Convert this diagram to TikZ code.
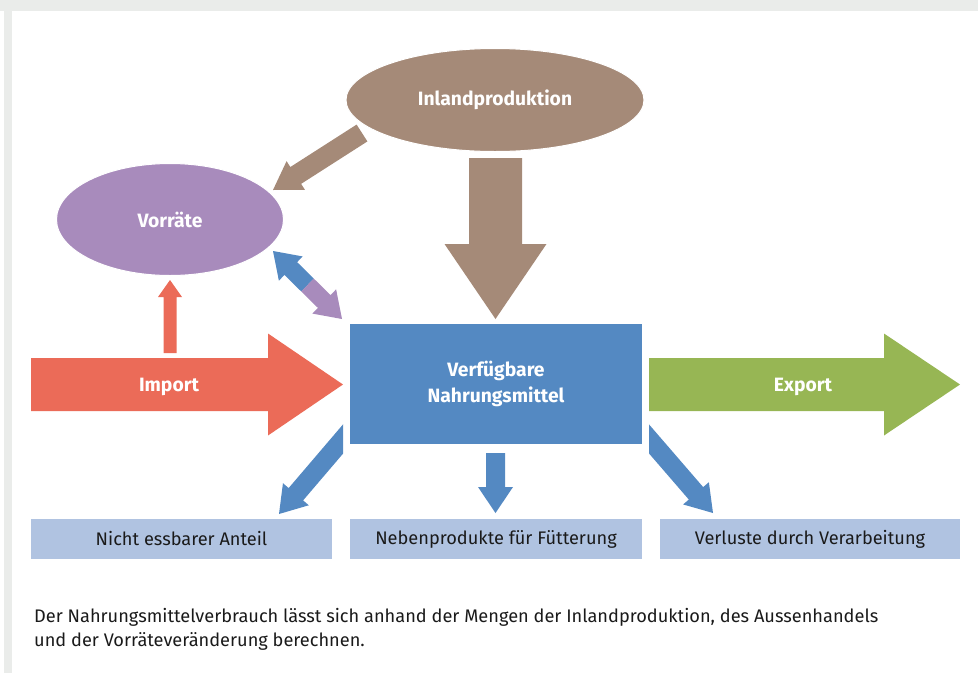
\documentclass[tikz,border=0pt]{standalone}
\usepackage{fontspec}
\setmainfont{Fira Sans}
\usetikzlibrary{calc,shapes.geometric}
\definecolor{brownA}{RGB}{165,138,120}
\definecolor{purpleA}{RGB}{168,139,188}
\definecolor{blueA}{RGB}{84,137,194}
\definecolor{redA}{RGB}{235,107,88}
\definecolor{greenA}{RGB}{151,182,84}
\definecolor{boxblue}{RGB}{176,195,225}
\definecolor{greyband}{RGB}{234,236,234}
\definecolor{txtdark}{RGB}{26,26,26}
\tikzset{
  lbl/.style={text=white,font=\bfseries\fontsize{19.3}{26}\selectfont,align=center,inner sep=0pt},
  ell/.style={ellipse,inner sep=0pt,draw=white,line width=1pt},
  boxtxt/.style={fill=boxblue,minimum height=40pt,text=txtdark,font=\fontsize{18.2}{20}\selectfont,inner sep=0pt},
}
% colour, tail, tip, shaft half width, head half width, head length
\newcommand{\blockarrow}[6]{%
  \path ($(#3)!#6!(#2)$) coordinate (hb);
  \fill[#1] ($(#2)!#4!90:(#3)$) -- ($(hb)!#4!90:(#3)$) -- ($(hb)!#5!90:(#3)$) -- (#3)
    -- ($(hb)!#5!-90:(#3)$) -- ($(hb)!#4!-90:(#3)$) -- ($(#2)!#4!-90:(#3)$) -- cycle;
}
\begin{document}
\begin{tikzpicture}[x=1pt,y=-1pt]
\useasboundingbox (0,0) rectangle (978,673);
\fill[greyband] (0,0) rectangle (978,11);
\fill[greyband] (4,11) rectangle (12,673);

% arrow geometry
\coordinate (impT) at (31,384.5);   \coordinate (impH) at (343,384.5);
\coordinate (expT) at (649,384.5);  \coordinate (expH) at (960,384.5);
\coordinate (bigT) at (495.5,158);  \coordinate (bigH) at (495.5,319);
\coordinate (diaT) at (362,133);    \coordinate (diaH) at (273,190);
\coordinate (redT) at (170,353);    \coordinate (redH) at (170,280);
\coordinate (dblM) at (307.5,285);  \coordinate (dblB) at (273,251);  \coordinate (dblP) at (342,319);
\coordinate (llT) at (352,428.5);   \coordinate (llH) at (279,514);
\coordinate (rrT) at (640,428.5);   \coordinate (rrH) at (713,513);
\coordinate (mmT) at (495.5,453);   \coordinate (mmH) at (495.5,513);

\blockarrow{redA}{impT}{impH}{26.5pt}{51pt}{75pt}
\blockarrow{greenA}{expT}{expH}{26.5pt}{51pt}{76pt}
\blockarrow{brownA}{bigT}{bigH}{26.5pt}{51pt}{75pt}
\blockarrow{brownA}{diaT}{diaH}{10pt}{17pt}{27pt}
\blockarrow{redA}{redT}{redH}{6.5pt}{12pt}{17pt}
\blockarrow{blueA}{dblM}{dblB}{9pt}{17pt}{25pt}
\blockarrow{purpleA}{dblM}{dblP}{9pt}{17pt}{25pt}
\begin{scope}
  \clip (0,0) rectangle (343,673);
  \blockarrow{blueA}{llT}{llH}{9.5pt}{17pt}{26pt}
\end{scope}
\begin{scope}
  \clip (649,0) rectangle (978,673);
  \blockarrow{blueA}{rrT}{rrH}{9.5pt}{17pt}{26pt}
\end{scope}
\blockarrow{blueA}{mmT}{mmH}{9.5pt}{17.5pt}{26pt}

% nodes
\node[ell,fill=brownA,minimum width=298pt,minimum height=103pt,lbl] (inl) at (495,100) {Inlandproduktion};
\node[ell,fill=purpleA,minimum width=227pt,minimum height=112pt,lbl] (vor) at (170,219.5) {Vorräte};
\node[fill=blueA,minimum width=292pt,minimum height=120pt,lbl] (vnm) at (496,384) {Verfügbare\\Nahrungsmittel};
\node[lbl] (imp) at (169,387) {Import};
\node[lbl] (exp) at (803,387) {Export};

\node[boxtxt,minimum width=301pt] (b1) at (181.5,539) {Nicht essbarer Anteil};
\node[boxtxt,minimum width=292pt] (b2) at (496,539) {Nebenprodukte für Fütterung};
\node[boxtxt,minimum width=300pt] (b3) at (810,539) {Verluste durch Verarbeitung};

\node[anchor=west,align=left,text=txtdark,inner sep=0pt,font=\fontsize{18.2}{24}\selectfont] (cap) at (34,629)
  {Der Nahrungsmittelverbrauch lässt sich anhand der Mengen der Inlandproduktion, des Aussenhandels\\und der Vorräteveränderung berechnen.};
\end{tikzpicture}
\end{document}
